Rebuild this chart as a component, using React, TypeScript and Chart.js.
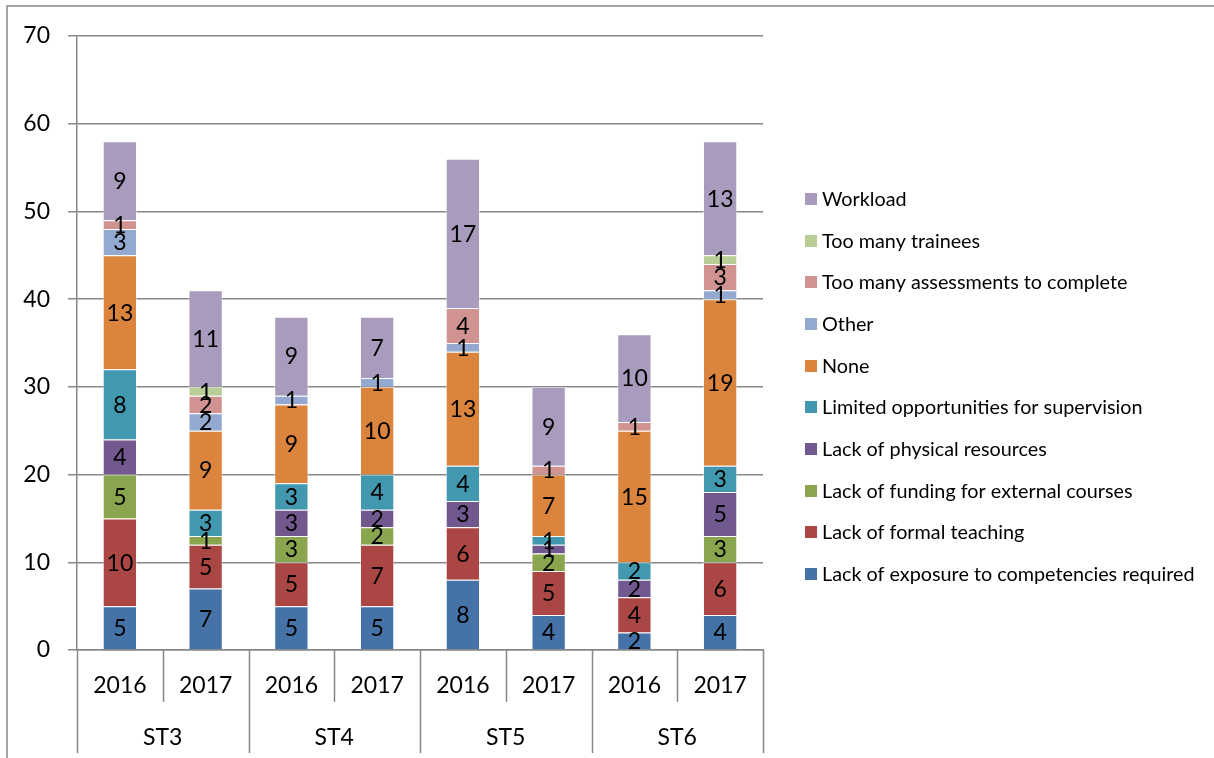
import React, { useEffect, useRef } from "react";
import { Chart, registerables } from "chart.js";

Chart.register(...registerables);

const categories = ["2016", "2017", "2016", "2017", "2016", "2017", "2016", "2017"];
const groups = ["ST3", "ST4", "ST5", "ST6"];
const yTicks = [0, 10, 20, 30, 40, 50, 60, 70];

const exposure = [5, 7, 5, 5, 8, 4, 2, 4];
const formalTeaching = [10, 5, 5, 7, 6, 5, 4, 6];
const funding = [5, 1, 3, 2, 0, 2, 0, 3];
const physical = [4, 0, 3, 2, 3, 1, 2, 5];
const supervision = [8, 3, 3, 4, 4, 1, 2, 3];
const none = [13, 9, 9, 10, 13, 7, 15, 19];
const other = [3, 2, 1, 1, 1, 0, 0, 1];
const assessments = [1, 2, 0, 0, 4, 1, 1, 3];
const trainees = [0, 1, 0, 0, 0, 0, 0, 1];
const workload = [9, 11, 9, 7, 17, 9, 10, 13];

const seriesNames = [
  "Lack of exposure to competencies required",
  "Lack of formal teaching",
  "Lack of funding for external courses",
  "Lack of physical resources",
  "Limited opportunities for supervision",
  "None",
  "Other",
  "Too many assessments to complete",
  "Too many trainees",
  "Workload",
];
const seriesValues = [exposure, formalTeaching, funding, physical, supervision, none, other, assessments, trainees, workload];
const seriesColors = [
  "#4572A7",
  "#AA4643",
  "#89A54E",
  "#71588F",
  "#4198AF",
  "#DB843D",
  "#93A9CF",
  "#D19392",
  "#B9CD96",
  "#A99BBD",
];

const FONT = "Lato, 'Open Sans', sans-serif";
const NUM_SIZE = 23;
const LEGEND_SIZE = 19.8;
const LINE = "#878787";

const framePlugin = {
  id: "frame",
  beforeDraw(chart: any) {
    const ctx = chart.ctx;
    ctx.save();
    ctx.fillStyle = "#ffffff";
    ctx.fillRect(0, 0, chart.width, chart.height);
    ctx.strokeStyle = LINE;
    ctx.lineWidth = 1.5;
    ctx.beginPath();
    ctx.moveTo(7, chart.height);
    ctx.lineTo(7, 6);
    ctx.lineTo(chart.width, 6);
    ctx.stroke();
    ctx.restore();
  },
};

const labelsPlugin = {
  id: "segLabels",
  afterDatasetsDraw(chart: any) {
    const ctx = chart.ctx;
    ctx.save();
    ctx.font = `${NUM_SIZE}px ${FONT}`;
    ctx.fillStyle = "#000000";
    ctx.textAlign = "center";
    ctx.textBaseline = "alphabetic";
    chart.data.datasets.forEach((ds: any, di: number) => {
      const meta = chart.getDatasetMeta(di);
      meta.data.forEach((el: any, i: number) => {
        const v = ds.data[i];
        if (!v) return;
        const cy = (el.y + el.base) / 2;
        ctx.fillText(String(v), el.x, cy + NUM_SIZE * 0.36);
      });
    });
    ctx.restore();
  },
};

const categoryAxisPlugin = {
  id: "catAxis",
  afterDraw(chart: any) {
    const ctx = chart.ctx;
    const xs = chart.scales.x;
    const area = chart.chartArea;
    const n = categories.length;
    const step = (area.right - area.left) / n;
    ctx.save();
    ctx.strokeStyle = LINE;
    ctx.lineWidth = 1.5;
    for (let i = 0; i <= n; i++) {
      const x = i === n ? xs.getPixelForValue(n - 1) + step / 2 : xs.getPixelForValue(i) - step / 2;
      const bottom = i % 2 === 0 ? 753 : 702;
      ctx.beginPath();
      ctx.moveTo(Math.round(x) + 0.5, area.bottom);
      ctx.lineTo(Math.round(x) + 0.5, bottom);
      ctx.stroke();
    }
    ctx.font = `${NUM_SIZE}px ${FONT}`;
    ctx.fillStyle = "#000000";
    ctx.textAlign = "center";
    ctx.textBaseline = "alphabetic";
    categories.forEach((c, i) => {
      ctx.fillText(c, xs.getPixelForValue(i), 685 + NUM_SIZE * 0.36);
    });
    groups.forEach((g, gi) => {
      const cx = (xs.getPixelForValue(gi * 2) + xs.getPixelForValue(gi * 2 + 1)) / 2;
      ctx.fillText(g, cx, 737 + NUM_SIZE * 0.36);
    });
    ctx.restore();
  },
};

const legendPlugin = {
  id: "customLegend",
  afterDraw(chart: any) {
    const ctx = chart.ctx;
    ctx.save();
    ctx.font = `${LEGEND_SIZE}px ${FONT}`;
    ctx.textAlign = "left";
    ctx.textBaseline = "alphabetic";
    const ds = chart.data.datasets;
    const top = 199;
    const gap = 41.67;
    for (let k = 0; k < ds.length; k++) {
      const d = ds[ds.length - 1 - k];
      const cy = top + k * gap;
      ctx.fillStyle = d.backgroundColor;
      ctx.fillRect(805, Math.round(cy - 6), 12, 12);
      ctx.fillStyle = "#000000";
      ctx.fillText(d.label, 822, cy + LEGEND_SIZE * 0.36);
    }
    ctx.restore();
  },
};

export default function App() {
  const ref = useRef<HTMLCanvasElement | null>(null);
  useEffect(() => {
    if (!ref.current) return;
    const chart = new Chart(ref.current, {
      type: "bar",
      data: {
        labels: categories,
        datasets: seriesNames.map((name, i) => ({
          label: name,
          data: seriesValues[i],
          backgroundColor: seriesColors[i],
          borderColor: "rgba(255,255,255,0.55)",
          borderWidth: (c: any) => (c.raw ? 1 : 0),
          barPercentage: 0.4,
          categoryPercentage: 1,
        })),
      },
      options: {
        responsive: false,
        animation: false,
        events: [],
        layout: { padding: { top: 36, right: 451, left: 0, bottom: 0 } },
        plugins: { legend: { display: false }, tooltip: { enabled: false } },
        scales: {
          x: {
            stacked: true,
            grid: { display: false },
            ticks: { display: false },
            border: { display: true, color: LINE, width: 1.5 },
            afterFit: (s: any) => {
              s.height = 108;
            },
          },
          y: {
            stacked: true,
            min: 0,
            max: 70,
            afterBuildTicks: (s: any) => {
              s.ticks = yTicks.map((v) => ({ value: v }));
            },
            grid: { color: LINE, lineWidth: 1.5, tickLength: 9, drawTicks: true },
            border: { display: true, color: LINE, width: 1.5 },
            ticks: {
              font: { family: FONT, size: NUM_SIZE },
              color: "#000000",
              padding: 18,
            },
            afterFit: (s: any) => {
              s.width = 77;
            },
          },
        },
      },
      plugins: [framePlugin, labelsPlugin, categoryAxisPlugin, legendPlugin],
    });
    return () => chart.destroy();
  }, []);
  return (
    <div style={{ position: "absolute", left: 0, top: 0, width: 1214, height: 758, background: "#fff" }}>
      <canvas ref={ref} width={1214} height={758} style={{ display: "block" }} />
    </div>
  );
}
